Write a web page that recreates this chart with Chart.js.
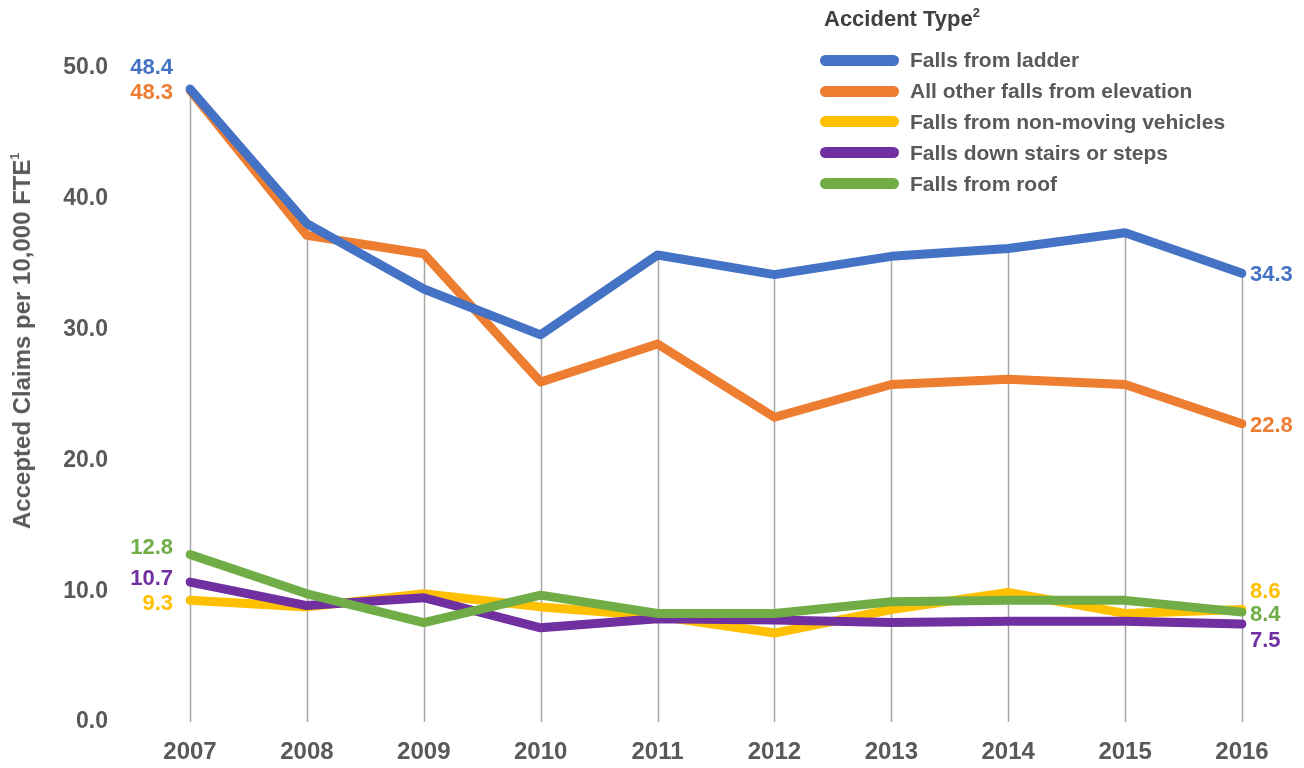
<!DOCTYPE html>
<html>
<head>
<meta charset="utf-8">
<script src="https://cdn.jsdelivr.net/npm/chart.js@4"></script>
<style>
  html, body { margin: 0; padding: 0; background: #fff; }
  #wrap { position: relative; width: 1304px; height: 768px; font-family: "Liberation Sans", Arial, sans-serif; }
  #yTitle {
    position: absolute; left: 22px; top: 341px;
    transform: translate(-50%, -50%) rotate(-90deg);
    white-space: nowrap; font-weight: bold; font-size: 24px; color: #595959;
  }
  #yTitle sup { font-size: 12px; vertical-align: 11px; }
  #legend { position: absolute; left: 820px; top: -2px; color: #595959; font-weight: bold; }
  #legend .title { position: relative; top: -5px; font-size: 22px; color: #404040; margin-left: 4px; height: 40px; line-height: 40px; margin-bottom: 7px; }
  #legend .title sup { font-size: 13px; vertical-align: 9px; }
  #legend .item { display: flex; align-items: center; height: 30.8px; font-size: 21px; }
  #legend .swatch { width: 79px; height: 11px; border-radius: 6px; margin-right: 11px; }
</style>
</head>
<body>
<div id="wrap">
  <canvas id="fallsChart" width="1304" height="768"></canvas>
  <div id="yTitle">Accepted Claims per 10,000 FTE<sup>1</sup></div>
  <div id="legend"></div>
</div>
<script>
const years = ["2007","2008","2009","2010","2011","2012","2013","2014","2015","2016"];
const seriesNames = ["Falls from ladder","All other falls from elevation","Falls from non-moving vehicles","Falls down stairs or steps","Falls from roof"];
const seriesColors = ["#4472C4","#ED7D31","#FFC000","#7030A0","#70AD47"];

const ladder    = [48.4, 38.1, 33.1, 29.6, 35.7, 34.2, 35.6, 36.2, 37.4, 34.3];
const elevation = [48.3, 37.2, 35.8, 26.0, 28.9, 23.3, 25.8, 26.2, 25.8, 22.8];
const vehicles  = [9.3, 8.8, 9.8, 8.8, 8.1, 6.8, 8.6, 9.9, 8.3, 8.6];
const stairs    = [10.7, 8.9, 9.5, 7.2, 7.9, 7.8, 7.6, 7.7, 7.7, 7.5];
const roof      = [12.8, 9.8, 7.6, 9.7, 8.3, 8.3, 9.2, 9.3, 9.3, 8.4];

const yTicks = [0, 10, 20, 30, 40, 50];

// draw order: lower = on top
const drawOrder = [0, 1, 4, 3, 2];

// label nudges (px) for first / last value labels: [dy first, dy last]
const labelNudge = [[-21, 2], [3, 2], [4, -18], [-3, 17], [-7, 3]];

const allSeries = [ladder, elevation, vehicles, stairs, roof];

const FONT = "'Liberation Sans', Arial, sans-serif";

// legend
const legendEl = document.getElementById("legend");
legendEl.innerHTML = '<div class="title">Accident Type<sup>2</sup></div>' +
    seriesNames.map((n, i) =>
        `<div class="item"><span class="swatch" style="background:${seriesColors[i]}"></span>${n}</div>`
    ).join("");

// vertical drop lines from highest series down to the axis
const dropLines = {
    id: "dropLines",
    beforeDatasetsDraw(chart) {
        const { ctx, scales: { x, y } } = chart;
        ctx.save();
        ctx.strokeStyle = "#A6A6A6";
        ctx.lineWidth = 1.5;
        years.forEach((_, i) => {
            const top = Math.max(...allSeries.map(s => s[i]));
            const px = Math.round(x.getPixelForValue(i)) + 0.5;
            ctx.beginPath();
            ctx.moveTo(px, y.getPixelForValue(top));
            ctx.lineTo(px, y.getPixelForValue(0));
            ctx.stroke();
        });
        ctx.restore();
    }
};

// end value labels
const endLabels = {
    id: "endLabels",
    afterDatasetsDraw(chart) {
        const { ctx, scales: { x, y } } = chart;
        const last = years.length - 1;
        ctx.save();
        ctx.font = `bold 22px ${FONT}`;
        ctx.textBaseline = "middle";
        allSeries.forEach((s, i) => {
            ctx.fillStyle = seriesColors[i];
            ctx.textAlign = "right";
            ctx.fillText(s[0].toFixed(1), x.getPixelForValue(0) - 17, y.getPixelForValue(s[0]) + labelNudge[i][0]);
            ctx.textAlign = "left";
            ctx.fillText(s[last].toFixed(1), x.getPixelForValue(last) + 8, y.getPixelForValue(s[last]) + labelNudge[i][1]);
        });
        ctx.restore();
    }
};

new Chart(document.getElementById("fallsChart"), {
    type: "line",
    data: {
        labels: years,
        datasets: allSeries.map((s, i) => ({
            label: seriesNames[i],
            data: s,
            borderColor: seriesColors[i],
            backgroundColor: seriesColors[i],
            borderWidth: 9,
            borderCapStyle: "round",
            borderJoinStyle: "round",
            pointRadius: 0,
            tension: 0,
            order: drawOrder[i]
        }))
    },
    options: {
        responsive: false,
        animation: false,
        layout: { padding: { left: 0, right: 62, top: 68, bottom: 0 } },
        plugins: {
            legend: { display: false },
            tooltip: { enabled: false }
        },
        scales: {
            x: {
                offset: false,
                grid: { display: false, drawTicks: false },
                border: { display: false },
                ticks: {
                    padding: 16,
                    maxRotation: 0,
                    color: "#595959",
                    font: { family: FONT, size: 24, weight: "bold" }
                },
                afterFit(scale) { scale.height = 46; }
            },
            y: {
                min: 0,
                max: 50,
                afterBuildTicks(scale) { scale.ticks = yTicks.map(v => ({ value: v })); },
                grid: { display: false, drawTicks: false },
                border: { display: false },
                ticks: {
                    padding: 82,
                    color: "#595959",
                    font: { family: FONT, size: 23, weight: "bold" },
                    callback: v => Number(v).toFixed(1)
                },
                afterFit(scale) {
                    scale.width = 190;
                    // tick padding is only meant to push labels left
                    scale.paddingTop = 14;
                    scale.paddingBottom = 14;
                }
            }
        }
    },
    plugins: [dropLines, endLabels]
});
</script>
</body>
</html>
